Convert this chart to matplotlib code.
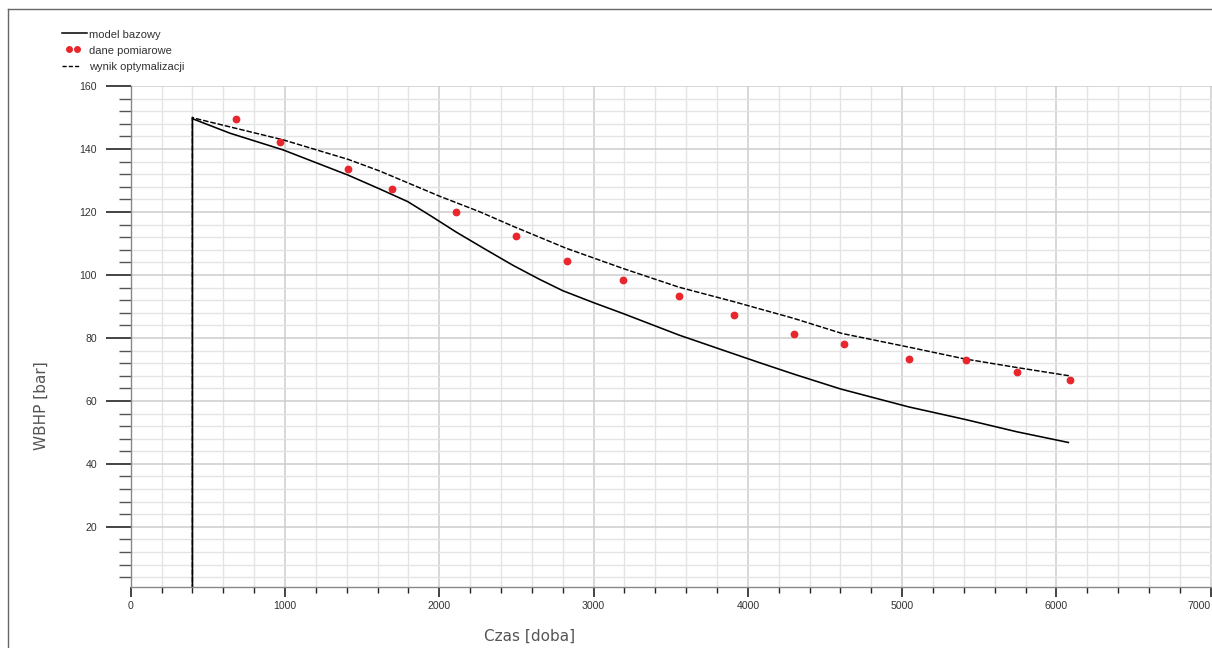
import matplotlib
matplotlib.use("Agg")
import matplotlib.pyplot as plt
from matplotlib.lines import Line2D
from matplotlib.ticker import MultipleLocator, FixedLocator

# ---- data ----
model_x = [400, 400, 406, 644, 988, 1409, 1614, 1795, 1950, 2110, 2293, 2476, 2650, 2800,
           3000, 3188, 3554, 3899, 4072, 4298, 4600, 5042, 5409, 5743, 6077]
model_y = [0, 150, 149.5, 145.0, 139.7, 131.7, 127.3, 123.3, 118.6, 113.6, 108.3, 103.1, 98.6, 95.0,
           91.2, 87.8, 80.9, 75.1, 72.2, 68.5, 63.8, 58.1, 54.1, 50.2, 46.8]

meas_x = [680, 969, 1411, 1696, 2110, 2494, 2830, 3192, 3554, 3912, 4298, 4622,
          5044, 5415, 5745, 6090]
meas_y = [149.5, 142.1, 133.7, 127.2, 120.1, 112.3, 104.5, 98.3, 93.4, 87.4, 81.3, 78.0,
          73.2, 73.0, 69.3, 66.7]

opt_x = [400, 400, 410, 988, 1409, 1614, 2002, 2260, 2476, 2821, 3188, 3554, 3910,
         4298, 4611, 5031, 5409, 5743, 6080]
opt_y = [0, 150, 149.8, 142.9, 136.7, 133.0, 125.0, 120.1, 115.5, 108.5, 102.1, 96.1, 91.5,
         86.2, 81.4, 77.2, 73.3, 70.6, 68.0]

x_ticks = [0, 1000, 2000, 3000, 4000, 5000, 6000, 7000]
y_ticks = [20, 40, 60, 80, 100, 120, 140, 160]
legend_labels = ["model bazowy", "dane pomiarowe", "wynik optymalizacji"]
xlabel = "Czas [doba]"
ylabel = "WBHP [bar]"

W, H = 1212, 648
fig = plt.figure(figsize=(W / 100, H / 100), dpi=100)
fig.patch.set_facecolor("white")

left, right, bottom, top = 130.7, 1212.0, 586.7, 86.0
ax = fig.add_axes([left / W, 1 - bottom / H, (right - left) / W, (bottom - top) / H])
ax.set_xlim(0, 7008)
ax.set_ylim(1, 160)

# grid
ax.xaxis.set_major_locator(FixedLocator(x_ticks))
ax.xaxis.set_minor_locator(MultipleLocator(200))
ax.yaxis.set_major_locator(FixedLocator(y_ticks))
ax.yaxis.set_minor_locator(MultipleLocator(4))
ax.grid(which="minor", color="#e4e4e4", lw=1.0)
ax.grid(which="major", color="#cdcdcd", lw=1.1)
ax.set_axisbelow(True)

for s in ["top", "right"]:
    ax.spines[s].set_visible(False)
for s in ["left", "bottom"]:
    ax.spines[s].set_color("#888888")
    ax.spines[s].set_linewidth(1.0)

ax.tick_params(axis="y", which="major", direction="out", length=17.8, width=1.1,
               color="#111111", pad=6.5, labelsize=7.6, labelcolor="#333333")
ax.tick_params(axis="y", which="minor", direction="out", length=9, width=1.0,
               color="#555555")
ax.tick_params(axis="x", which="major", direction="out", length=7.4, width=1.1,
               color="#111111", pad=3.0, labelsize=7.6, labelcolor="#333333")
ax.tick_params(axis="x", which="minor", direction="out", length=4.4, width=1.0,
               color="#222222")
ax.set_xticklabels([str(v) for v in x_ticks], fontfamily="Liberation Sans")
ax.set_yticklabels([str(v) for v in y_ticks], fontfamily="Liberation Sans")
lbls = ax.get_xticklabels()
lbls[-1].set_horizontalalignment("right")

# data
ax.plot(model_x, model_y, color="black", lw=1.15, solid_joinstyle="round")
ax.plot(opt_x, opt_y, color="black", lw=1.05, dashes=(3.8, 1.3))
ax.plot(meas_x, meas_y, ls="none", marker="o", ms=4.6, color="#e8262b", mec="#e8262b")

# axis labels
fig.text(530 / W, 1 - 636 / H, xlabel, ha="center", va="center", fontsize=11,
         color="#555555", family="DejaVu Sans")
fig.text(41.5 / W, 1 - 406 / H, ylabel, ha="center", va="center", fontsize=11,
         rotation=90, color="#555555", family="DejaVu Sans")

# legend (manual)
def fx(px):
    return px / W

def fy(py):
    return 1 - py / H

fig.add_artist(Line2D([fx(61.7), fx(86.7)], [fy(32.7), fy(32.7)], color="black",
                      lw=1.1, transform=fig.transFigure))
fig.add_artist(Line2D([fx(69.3), fx(77.3)], [fy(49.3), fy(49.3)], ls="none",
                      marker="o", ms=4.0, color="#e8262b", transform=fig.transFigure))
fig.add_artist(Line2D([fx(61.7), fx(79)], [fy(65.7), fy(65.7)], color="black",
                      lw=1.0, dashes=(3.0, 1.5), transform=fig.transFigure))
for lab, yy in zip(legend_labels, [34.5, 51.0, 67.5]):
    fig.text(fx(89.3), fy(yy), lab, ha="left", va="center", fontsize=8,
             family="Liberation Sans", color="#333333")

# outer frame (top and left edges)
fig.add_artist(Line2D([fx(8.3), 1.0], [fy(9.3), fy(9.3)], color="#666666", lw=1.0,
                      transform=fig.transFigure))
fig.add_artist(Line2D([fx(8.3), fx(8.3)], [fy(9.3), 0.0], color="#666666", lw=1.0,
                      transform=fig.transFigure))

fig.savefig("out.png", dpi=100)
